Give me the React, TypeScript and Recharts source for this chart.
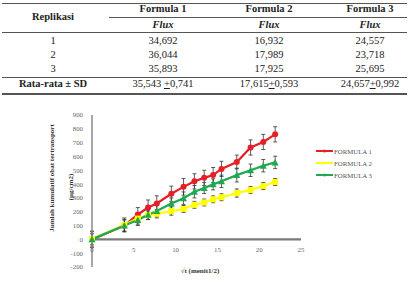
import React from "react";
import { LineChart, Line, XAxis, YAxis, ErrorBar, ReferenceLine } from "recharts";

// table values
const formulaHeaders = ["Formula 1", "Formula 2", "Formula 3"];
const replikasiLabels = ["1", "2", "3"];
const fluxFormula1 = ["34,692", "36,044", "35,893"];
const fluxFormula2 = ["16,932", "17,989", "17,925"];
const fluxFormula3 = ["24,557", "23,718", "25,695"];
const meanFlux = ["35,543", "17,615", "24,657"];
const sdFlux = ["0,741", "0,593", "0,992"];

// chart values
const sqrtTime = [0, 3.87, 5.48, 6.71, 7.75, 9.49, 10.95, 12.25, 13.42, 14.49, 15.49, 17.32, 18.97, 20.49, 21.91];
const formula1 = [0, 100, 180, 230, 260, 330, 380, 420, 445, 465, 510, 560, 665, 705, 760];
const formula1Sd = [60, 45, 50, 55, 55, 55, 60, 55, 55, 55, 55, 50, 55, 55, 55];
const formula2 = [0, 105, 150, 175, 185, 205, 220, 250, 267, 290, 305, 335, 358, 386, 415];
const formula2Sd = [40, 50, 40, 30, 30, 30, 25, 25, 25, 25, 25, 30, 25, 25, 25];
const formula3 = [0, 100, 140, 178, 205, 260, 298, 345, 372, 398, 420, 465, 500, 533, 557];
const formula3Sd = [55, 40, 40, 35, 40, 40, 45, 45, 40, 40, 45, 50, 45, 45, 45];
const xTicks = [0, 5, 10, 15, 20, 25];
const yTicks = [-200, -100, 0, 100, 200, 300, 400, 500, 600, 700, 800, 900];
const seriesNames = ["FORMULA 1", "FORMULA 2", "FORMULA 3"];

const RED = "#e61e25";
const YELLOW = "#ffff00";
const GREEN = "#1fa84f";
const SERIF = "Liberation Serif, Times New Roman, DejaVu Serif, serif";

const data = sqrtTime.map((x, i) => ({
  x,
  f1: formula1[i],
  e1: formula1Sd[i],
  f2: formula2[i],
  e2: formula2Sd[i],
  f3: formula3[i],
  e3: formula3Sd[i],
}));

const circleDot = (p: any) => <circle key={`c${p.index}`} cx={p.cx} cy={p.cy} r={3} fill={RED} />;
const squareDot = (p: any) => (
  <rect key={`s${p.index}`} x={p.cx - 3} y={p.cy - 3} width={6} height={6} fill={YELLOW} />
);
const triangleDot = (p: any) => (
  <polygon
    key={`t${p.index}`}
    points={`${p.cx},${p.cy - 3.5} ${p.cx + 3.5},${p.cy + 3} ${p.cx - 3.5},${p.cy + 3}`}
    fill={GREEN}
  />
);

const XTick = (p: any) => (
  <text x={p.x} y={p.y - 15} textAnchor="middle" fontSize={6.8} fill="#666" fontFamily={SERIF}>
    {p.payload.value}
  </text>
);

const cell = (cx: number, cy: number, content: React.ReactNode, style: React.CSSProperties = {}) => (
  <div
    style={{
      position: "absolute",
      left: cx - 70,
      width: 140,
      top: cy - 7,
      height: 14,
      lineHeight: "14px",
      textAlign: "center",
      whiteSpace: "nowrap",
      ...style,
    }}
  >
    {content}
  </div>
);

const rule = (y: number, x1: number, x2: number, h = 1) => (
  <div style={{ position: "absolute", left: x1, width: x2 - x1, top: y, height: h, background: "#555" }} />
);

export default function App() {
  const colX = [163, 269, 370];
  const rowY = [41, 55, 69];
  const fluxCols = [fluxFormula1, fluxFormula2, fluxFormula3];
  const legendColors = [RED, YELLOW, GREEN];
  return (
    <div
      style={{
        position: "absolute",
        left: 0,
        top: 0,
        width: 408,
        height: 282,
        background: "#fff",
        fontFamily: SERIF,
        color: "#222",
        fontSize: 10.5,
      }}
    >
      {/* table */}
      {rule(3, 2, 407)}
      {rule(17, 109, 407)}
      {rule(32, 2, 407)}
      {rule(77, 2, 407)}
      {rule(93, 2, 407, 1.5)}
      {cell(53, 17, "Replikasi", { fontWeight: "bold" })}
      {formulaHeaders.map((h, i) => (
        <React.Fragment key={h}>
          {cell(colX[i], 9, h, { fontWeight: "bold" })}
          {cell(colX[i], 25, "Flux", { fontWeight: "bold", fontStyle: "italic" })}
        </React.Fragment>
      ))}
      {replikasiLabels.map((r, j) => (
        <React.Fragment key={r}>
          {cell(53, rowY[j], r)}
          {fluxCols.map((col, i) => (
            <React.Fragment key={i}>{cell(colX[i], rowY[j], col[j])}</React.Fragment>
          ))}
        </React.Fragment>
      ))}
      {cell(53, 84, "Rata-rata ± SD", { fontWeight: "bold" })}
      {meanFlux.map((m, i) => (
        <React.Fragment key={m}>
          {cell(
            colX[i],
            84,
            <span>
              {m}
              {i === 0 ? " " : ""}
              <u>+</u>
              {sdFlux[i]}
            </span>
          )}
        </React.Fragment>
      ))}

      {/* chart */}
      <div style={{ position: "absolute", left: 0, top: 0 }}>
        <LineChart width={408} height={282} data={data} margin={{ top: 115, right: 107, bottom: 0, left: 62 }}>
          <XAxis
            dataKey="x"
            type="number"
            domain={[0, 25]}
            ticks={xTicks}
            axisLine={false}
            tickLine={false}
            tickSize={0}
            tickMargin={0}
            height={15}
            tick={<XTick />}
            interval={0}
          />
          <YAxis
            type="number"
            domain={[-200, 900]}
            ticks={yTicks}
            interval={0}
            width={30}
            tickLine={false}
            tickSize={5}
            tickMargin={4}
            axisLine={{ stroke: "#8a8a8a", strokeWidth: 1.5 }}
            tick={{ fontSize: 6.8, fill: "#666", fontFamily: SERIF }}
          />
          <ReferenceLine y={0} stroke="#7a7a7a" strokeWidth={2.2} />
          <Line dataKey="f1" name={seriesNames[0]} stroke={RED} strokeWidth={2.2} dot={circleDot} isAnimationActive={false}>
            <ErrorBar dataKey="e1" direction="y" width={2} stroke="#333" strokeWidth={0.8} />
          </Line>
          <Line dataKey="f2" name={seriesNames[1]} stroke={YELLOW} strokeWidth={2.2} dot={squareDot} isAnimationActive={false}>
            <ErrorBar dataKey="e2" direction="y" width={2} stroke="#333" strokeWidth={0.8} />
          </Line>
          <Line dataKey="f3" name={seriesNames[2]} stroke={GREEN} strokeWidth={2.2} dot={triangleDot} isAnimationActive={false}>
            <ErrorBar dataKey="e3" direction="y" width={2} stroke="#333" strokeWidth={0.8} />
          </Line>
        </LineChart>
      </div>

      {/* legend */}
      <div style={{ position: "absolute", left: 316, top: 145, fontSize: 6.8, color: "#555" }}>
        {seriesNames.map((n, i) => (
          <div key={n} style={{ display: "flex", alignItems: "center", height: 12 }}>
            <svg width={18} height={6}>
              <line x1={0} y1={3} x2={17} y2={3} stroke={legendColors[i]} strokeWidth={2} />
              <circle cx={8.5} cy={3} r={1.5} fill={legendColors[i]} />
            </svg>
            <span>{n}</span>
          </div>
        ))}
      </div>

      {/* axis titles */}
      <div
        style={{
          position: "absolute",
          left: 200 - 60,
          width: 120,
          top: 267,
          textAlign: "center",
          fontSize: 7,
          fontWeight: "bold",
          color: "#333",
        }}
      >
        √t (menit1/2)
      </div>
      <div
        style={{
          position: "absolute",
          left: 52 - 80,
          top: 178 - 5,
          width: 160,
          height: 10,
          lineHeight: "10px",
          textAlign: "center",
          transform: "rotate(-90deg)",
          fontSize: 7,
          fontWeight: "bold",
          color: "#333",
          whiteSpace: "nowrap",
        }}
      >
        Jumlah kumulatif obat tertransport
      </div>
      <div
        style={{
          position: "absolute",
          left: 71 - 40,
          top: 187 - 5,
          width: 80,
          height: 10,
          lineHeight: "10px",
          textAlign: "center",
          transform: "rotate(-90deg)",
          fontSize: 7,
          fontWeight: "bold",
          color: "#333",
          whiteSpace: "nowrap",
        }}
      >
        (µg/cm2)
      </div>
    </div>
  );
}
